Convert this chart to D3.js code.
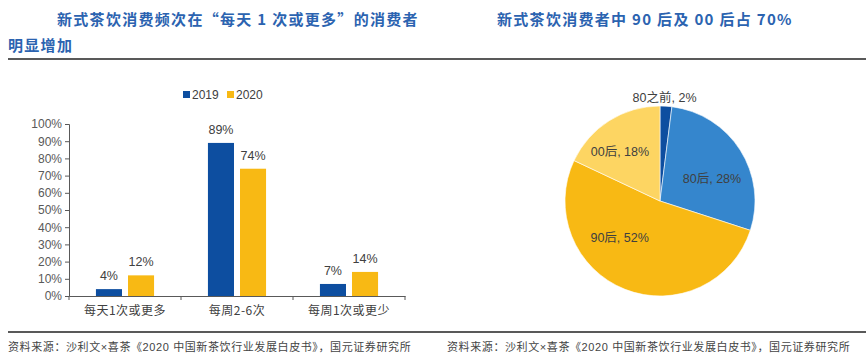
<!DOCTYPE html>
<html>
<head>
<meta charset="utf-8">
<script src="https://cdn.jsdelivr.net/npm/d3@7"></script>
<style>
  body { margin: 0; background: #fff; }
  svg text { font-family: "Liberation Sans", Arial, "Noto Sans CJK SC", sans-serif; }
</style>
</head>
<body>
<svg id="chart" width="866" height="362"></svg>
<script>
// bar chart data
var categories = ['每天1次或更多', '每周2-6次', '每周1次或更少']
var years = ['2019', '2020']
var values2019 = [0.04, 0.89, 0.07]
var values2020 = [0.12, 0.74, 0.14]
var yTicks = [0, 0.1, 0.2, 0.3, 0.4, 0.5, 0.6, 0.7, 0.8, 0.9, 1]

// pie data
var pieLabels = ['80之前', '80后', '90后', '00后']
var pieValues = [0.02, 0.28, 0.52, 0.18]

var titleLeft1 = '新式茶饮消费频次在“每天 1 次或更多”的消费者'
var titleLeft2 = '明显增加'
var titleRight = '新式茶饮消费者中 90 后及 00 后占 70%'
var source = '资料来源：沙利文×喜茶《2020 中国新茶饮行业发展白皮书》，国元证券研究所'

var barColors = {'2019': '#0d4ea0', '2020': '#f8b914'}
var pieColors = ['#0d4ea0', '#3586cd', '#f8b914', '#fdd562']

var svg = d3.select('#chart')
var cjk = '"Noto Sans CJK SC", sans-serif'

// titles
function title(txt, x, y) {
  svg.append('text')
    .attr('x', x).attr('y', y)
    .attr('fill', '#2b63b0')
    .attr('font-size', 15)
    .attr('font-weight', 'bold')
    .attr('letter-spacing', 1.3)
    .style('font-family', cjk)
    .text(txt)
}
title(titleLeft1, 57, 25)
title(titleLeft2, 8, 51)
title(titleRight, 497, 25)

// rules
svg.append('line').attr('x1', 8).attr('x2', 866).attr('y1', 59).attr('y2', 59)
  .attr('stroke', '#222').attr('stroke-width', 1.5)
svg.append('line').attr('x1', 8).attr('x2', 866).attr('y1', 332).attr('y2', 332)
  .attr('stroke', '#222').attr('stroke-width', 1.5)

// sources
svg.selectAll('.src').data([8, 447]).enter().append('text')
  .attr('x', function(d) { return d }).attr('y', 351)
  .attr('fill', '#444').attr('font-size', 11)
  .attr('letter-spacing', 0.6)
  .style('font-family', '"Liberation Sans", "Noto Sans CJK SC", sans-serif')
  .text(source)

// ---- bar chart ----
var x = d3.scaleBand().domain(categories).range([69, 405])
var xInner = d3.scaleBand().domain(years).range([0, x.bandwidth()])
  .paddingInner(0.1875).paddingOuter(0.84)
var y = d3.scaleLinear().domain([0, 1]).range([296, 124])

var yAxis = d3.axisLeft(y).tickValues(yTicks).tickFormat(d3.format('.0%'))
  .tickSize(4).tickPadding(3)
var gy = svg.append('g').attr('transform', 'translate(69,0)').call(yAxis)
gy.selectAll('text').attr('font-size', 12).attr('fill', '#595959')
  .style('font-family', '"Liberation Sans", Arial, sans-serif')
gy.selectAll('line, path').attr('stroke', '#595959')

var xAxis = d3.axisBottom(x).tickValues([]).tickSizeOuter(0)
var gx = svg.append('g').attr('transform', 'translate(0,296)').call(xAxis)
gx.select('path').attr('stroke', '#595959')
gx.selectAll('.sep').data(d3.range(categories.length + 1)).enter().append('line')
  .attr('x1', function(i) { return 69 + i * x.step() })
  .attr('x2', function(i) { return 69 + i * x.step() })
  .attr('y1', 0).attr('y2', 4).attr('stroke', '#595959')
gx.selectAll('.cat').data(categories).enter().append('text')
  .attr('x', function(d) { return x(d) + x.bandwidth() / 2 })
  .attr('y', 19)
  .attr('text-anchor', 'middle')
  .attr('fill', '#404040').attr('font-size', 12)
  .attr('letter-spacing', 0.5)
  .style('font-family', cjk)
  .text(function(d) { return d })

var series = [
  {year: '2019', values: values2019},
  {year: '2020', values: values2020}
]
series.forEach(function(s) {
  var g = svg.append('g')
  g.selectAll('rect').data(s.values).enter().append('rect')
    .attr('x', function(d, i) { return x(categories[i]) + xInner(s.year) })
    .attr('width', xInner.bandwidth())
    .attr('y', function(d) { return y(d) })
    .attr('height', function(d) { return y(0) - y(d) })
    .attr('fill', barColors[s.year])
  g.selectAll('text').data(s.values).enter().append('text')
    .attr('x', function(d, i) { return x(categories[i]) + xInner(s.year) + xInner.bandwidth() / 2 })
    .attr('y', function(d) { return y(d) - 9 })
    .attr('text-anchor', 'middle')
    .attr('fill', '#404040').attr('font-size', 12.5)
    .text(function(d) { return d3.format('.0%')(d) })
})

// legend
var legend = svg.append('g').attr('transform', 'translate(183,91)')
years.forEach(function(yr, i) {
  var lg = legend.append('g').attr('transform', 'translate(' + (i * 44) + ',0)')
  lg.append('rect').attr('width', 7).attr('height', 7).attr('fill', barColors[yr])
  lg.append('text').attr('x', 9).attr('y', 7.5)
    .attr('fill', '#404040').attr('font-size', 12).text(yr)
})

// ---- pie chart ----
var cx = 660, cy = 201, r = 95
var pie = d3.pie().sort(null).value(function(d) { return d })
var arcs = pie(pieValues)
var arc = d3.arc().innerRadius(0).outerRadius(r)
var labelArc = d3.arc().innerRadius(58).outerRadius(58)
var outerArc = d3.arc().innerRadius(104).outerRadius(104)
var labelShift = [[-2, 0], [3, 9], [-19, -17], [-9, 0]]

var pg = svg.append('g').attr('transform', 'translate(' + cx + ',' + cy + ')')
pg.selectAll('path').data(arcs).enter().append('path')
  .attr('d', arc)
  .attr('fill', function(d, i) { return pieColors[i] })
  .attr('stroke', '#fff').attr('stroke-width', 0.6)

pg.selectAll('text').data(arcs).enter().append('text')
  .attr('transform', function(d, i) {
    var c = (i === 0 ? outerArc : labelArc).centroid(d)
    return 'translate(' + (c[0] + labelShift[i][0]) + ',' + (c[1] + labelShift[i][1]) + ')'
  })
  .attr('dy', '0.35em')
  .attr('text-anchor', 'middle')
  .attr('fill', '#404040').attr('font-size', 12.5)
  .text(function(d, i) { return pieLabels[i] + ', ' + d3.format('.0%')(d.data) })
</script>
</body>
</html>
